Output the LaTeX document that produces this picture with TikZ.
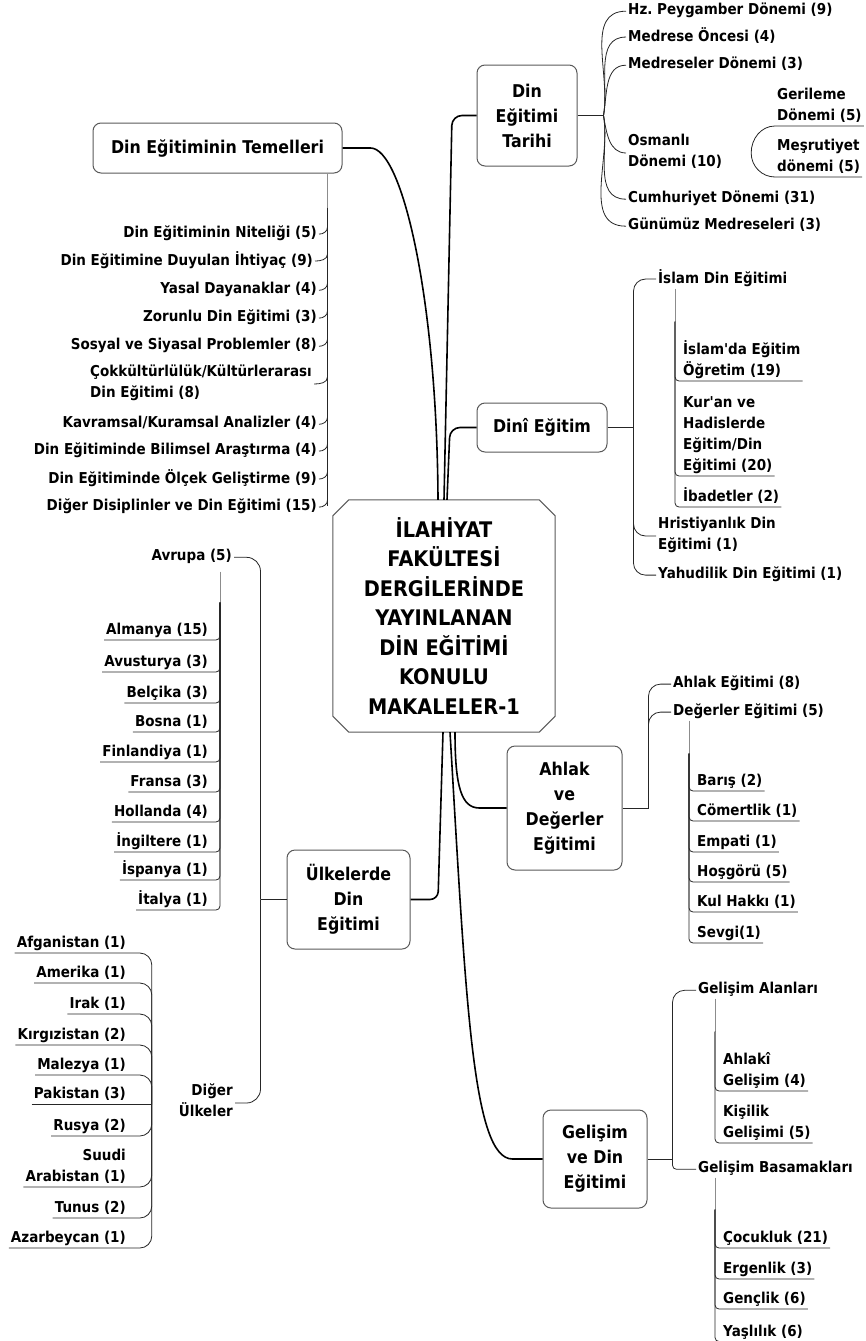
\documentclass[tikz,border=0pt]{standalone}
\usepackage{fontspec}
\setmainfont{DejaVu Sans}[FakeStretch=0.9, Ligatures=TeXOff]
\frenchspacing

\newcommand{\leaffont}{\fontsize{15}{21}\selectfont\bfseries}
\newcommand{\topicfont}{\fontsize{17.6}{25}\selectfont\bfseries}
\newcommand{\rootfont}{\fontsize{21.5}{29.5}\selectfont\bfseries}

\tikzset{
  root/.style={align=center, font=\rootfont, inner sep=0pt},
  frame/.style={draw=black!65, line width=1pt},
  topic/.style={draw=black!65, line width=1pt, rounded corners=8pt,
    align=center, font=\topicfont, inner sep=0pt},
  leaf/.style={font=\leaffont, inner xsep=2pt, inner ysep=0pt, text depth=5pt},
  multi/.style={leaf, align=left},
  trunk/.style={line width=1.6pt, black},
  twig/.style={line width=0.8pt, black!85},
  stem/.style={line width=0.5pt, black!45},
}

\begin{document}
\begin{tikzpicture}[x=1pt, y=-1pt]
  \useasboundingbox (0,0) rectangle (866,1341);

  % centre and main topics
  \node[root, minimum width=222pt, minimum height=232pt] (c) at (444,616)
    {İLAHİYAT\\FAKÜLTESİ\\DERGİLERİNDE\\YAYINLANAN\\DİN EĞİTİMİ\\KONULU\\MAKALELER-1};
  \draw[frame] ([xshift=16pt]c.north west) -- ([xshift=-16pt]c.north east)
    -- ([yshift=-16pt]c.north east) -- ([yshift=16pt]c.south east)
    -- ([xshift=-16pt]c.south east) -- ([xshift=16pt]c.south west)
    -- ([yshift=16pt]c.south west) -- ([yshift=-16pt]c.north west) -- cycle;
  \node[topic, minimum width=249pt, minimum height=50pt] (temel) at (217.5,148) {Din Eğitiminin Temelleri};
  \node[topic, minimum width=100pt, minimum height=101pt] (tarih) at (527,115.5) {Din\\Eğitimi\\Tarihi};
  \node[topic, minimum width=130pt, minimum height=49pt] (dini) at (542,427.5) {Dinî Eğitim};
  \node[topic, minimum width=115pt, minimum height=124pt] (ahlak) at (564.5,808) {Ahlak\\ve\\Değerler\\Eğitimi};
  \node[topic, minimum width=104pt, minimum height=98pt] (gelisim) at (595,1159) {Gelişim\\ve Din\\Eğitimi};
  \node[topic, minimum width=123pt, minimum height=99pt] (ulke) at (348.5,899.5) {Ülkelerde\\Din\\Eğitimi};

  \draw[trunk] (temel.east) -- ++(28,0) .. controls +(32,0) and +(-1,-200) .. ([xshift=-6pt]c.north);
  \draw[trunk, rounded corners=10pt] ([xshift=0pt]c.north) -- ([xshift=8pt]c.north |- tarih.west) -- (tarih.west);
  \draw[trunk, rounded corners=10pt] ([xshift=3pt]c.north) -- ([xshift=6pt]c.north |- dini.west) -- (dini.west);
  \draw[trunk, rounded corners=8pt] ([xshift=-1pt]c.south) -- ([xshift=-6pt]c.south |- ulke.east) -- (ulke.east);
  \draw[trunk] ([xshift=6pt]c.south) .. controls +(16,270) and +(-40,0) .. ([xshift=-30pt]gelisim.west) -- (gelisim.west);
  \draw[trunk] ([xshift=11pt]c.south) .. controls +(0,55) and +(-18,0) .. ([xshift=-27pt]ahlak.west) -- (ahlak.west);

  % Din Egitiminin Temelleri
  \coordinate (tbar) at ([xshift=-15pt]temel.south east);
  \draw[stem] (tbar) -- ++(0,34) coordinate (tbarb);
  \draw[twig] (tbarb) -- ++(0,298);
  \node[leaf, anchor=base east] (t1) at (319,237.5) {Din Eğitiminin Niteliği (5)};
  \node[leaf, anchor=base east] (t2) at (315,265.5) {Din Eğitimine Duyulan İhtiyaç (9)};
  \node[leaf, anchor=base east] (t3) at (319,293.5) {Yasal Dayanaklar (4)};
  \node[leaf, anchor=base east] (t4) at (319,321.5) {Zorunlu Din Eğitimi (3)};
  \node[leaf, anchor=base east] (t5) at (319,349.5) {Sosyal ve Siyasal Problemler (8)};
  \node[multi, anchor=west] (t6) at (88,384) {Çokkültürlülük/Kültürlerarası\\Din Eğitimi (8)};
  \node[leaf, anchor=base east] (t7) at (319,427.5) {Kavramsal/Kuramsal Analizler (4)};
  \node[leaf, anchor=base east] (t8) at (319,454.5) {Din Eğitiminde Bilimsel Araştırma (4)};
  \node[leaf, anchor=base east] (t9) at (319,483.5) {Din Eğitiminde Ölçek Geliştirme (9)};
  \node[leaf, anchor=base east] (t10) at (319,510.5) {Diğer Disiplinler ve Din Eğitimi (15)};
  \foreach \i in {1,...,10}
    \draw[twig] (t\i.east) to[out=0,in=-90] ([yshift=7pt]t\i.east -| tbar);

  % Din Egitimi Tarihi
  \coordinate (tfan) at ([xshift=26pt]tarih.east);
  \draw[twig] (tarih.east) -- (tfan);
  \node[leaf, anchor=base west] (h1) at (626,14.5) {Hz. Peygamber Dönemi (9)};
  \node[leaf, anchor=base west] (h2) at (626,41.5) {Medrese Öncesi (4)};
  \node[leaf, anchor=base west] (h3) at (626,68.5) {Medreseler Dönemi (3)};
  \node[multi, anchor=west] (h4) at (626,153) {Osmanlı\\Dönemi (10)};
  \node[leaf, anchor=base west] (h5) at (626,202.5) {Cumhuriyet Dönemi (31)};
  \node[leaf, anchor=base west] (h6) at (626,229.5) {Günümüz Medreseleri (3)};
  \foreach \i in {1,2,3}
    \draw[twig] (tfan) to[out=80,in=180] (h\i.west);
  \foreach \i in {4,5,6}
    \draw[twig] (tfan) to[out=-80,in=180] (h\i.west);
  \node[multi, anchor=south west] (h41) at (775,126) {Gerileme\\Dönemi (5)};
  \node[multi, anchor=south west] (h42) at (775,177) {Meşrutiyet\\dönemi (5)};
  \coordinate (ofan) at ([xshift=27pt]h4.east);
  \draw[twig] (ofan) to[out=90,in=180] (h41.south west) -- (h41.south east);
  \draw[twig] (ofan) to[out=-90,in=180] (h42.south west) -- (h42.south east);

  % Dini Egitim
  \coordinate (dfan) at ([xshift=26pt]dini.east);
  \draw[twig] (dini.east) -- (dfan);
  \node[leaf, anchor=base west] (d1) at (656,283.5) {İslam Din Eğitimi};
  \node[multi, anchor=west] (d2) at (656,536) {Hristiyanlık Din\\Eğitimi (1)};
  \node[leaf, anchor=base west] (d3) at (656,578.5) {Yahudilik Din Eğitimi (1)};
  \foreach \i in {1,2,3}
    \draw[twig, rounded corners=12pt] (dfan) |- (d\i.west);
  \coordinate (ibar) at ([xshift=19pt]d1.south west);
  \draw[stem] (ibar) -- ++(0,33) coordinate (ibarb);
  \node[multi, anchor=south west] (d11) at (681,381) {İslam'da Eğitim\\Öğretim (19)};
  \node[multi, anchor=south west] (d12) at (681,476) {Kur'an ve\\Hadislerde\\Eğitim/Din\\Eğitimi (20)};
  \node[leaf, anchor=south west] (d13) at (681,507) {İbadetler (2)};
  \foreach \i in {11,12,13}
    \draw[twig, rounded corners=4pt] (ibarb) |- (d\i.south east);

  % Ahlak ve Degerler Egitimi
  \coordinate (afan) at ([xshift=26pt]ahlak.east);
  \draw[twig] (ahlak.east) -- (afan);
  \node[leaf, anchor=base west] (a1) at (671,687.5) {Ahlak Eğitimi (8)};
  \node[leaf, anchor=base west] (a2) at (671,715.5) {Değerler Eğitimi (5)};
  \foreach \i in {1,2}
    \draw[twig, rounded corners=12pt] (afan) |- (a\i.west);
  \coordinate (vbar) at ([xshift=18pt]a2.south west);
  \draw[stem] (vbar) -- ++(0,33) coordinate (vbarb);
  \node[leaf, anchor=south west] (v1) at (695,791) {Barış (2)};
  \node[leaf, anchor=south west] (v2) at (695,821) {Cömertlik (1)};
  \node[leaf, anchor=south west] (v3) at (695,852) {Empati (1)};
  \node[leaf, anchor=south west] (v4) at (695,882) {Hoşgörü (5)};
  \node[leaf, anchor=south west] (v5) at (695,912) {Kul Hakkı (1)};
  \node[leaf, anchor=south west] (v6) at (695,943) {Sevgi(1)};
  \foreach \i in {1,...,6}
    \draw[twig, rounded corners=4pt] (vbarb) |- (v\i.south east);

  % Gelisim ve Din Egitimi
  \coordinate (gfan) at ([xshift=25pt]gelisim.east);
  \draw[twig] (gelisim.east) -- (gfan);
  \node[leaf, anchor=base west] (g1) at (696,993.5) {Gelişim Alanları};
  \node[leaf, anchor=base west] (g2) at (696,1172.5) {Gelişim Basamakları};
  \draw[twig, rounded corners=12pt] (gfan) |- (g1.west);
  \draw[twig, rounded corners=4pt] (gfan) |- (g2.west);
  \coordinate (gabar) at ([xshift=19pt]g1.south west);
  \draw[stem] (gabar) -- ++(0,33) coordinate (gabarb);
  \node[multi, anchor=south west] (g11) at (721,1091) {Ahlakî\\Gelişim (4)};
  \node[multi, anchor=south west] (g12) at (721,1143) {Kişilik\\Gelişimi (5)};
  \foreach \i in {11,12}
    \draw[twig, rounded corners=4pt] (gabarb) |- (g\i.south east);
  \coordinate (gbbar) at ([xshift=19pt]g2.south west);
  \draw[stem] (gbbar) -- ++(0,32) coordinate (gbbarb);
  \node[leaf, anchor=south west] (g21) at (721,1248) {Çocukluk (21)};
  \node[leaf, anchor=south west] (g22) at (721,1279) {Ergenlik (3)};
  \node[leaf, anchor=south west] (g23) at (721,1309) {Gençlik (6)};
  \node[leaf, anchor=south west] (g24) at (721,1341.5) {Yaşlılık (6)};
  \foreach \i in {21,...,24}
    \draw[twig, rounded corners=4pt] (gbbarb) |- (g\i.south east);

  % Ulkelerde Din Egitimi
  \coordinate (ufan) at ([xshift=-26pt]ulke.west);
  \draw[twig] (ulke.west) -- (ufan);
  \node[leaf, anchor=base east] (u1) at (234,560.5) {Avrupa (5)};
  \node[multi, anchor=east, align=right] (u2) at (235,1103) {Diğer\\Ülkeler};
  \draw[twig, rounded corners=14pt] (ufan) |- (u1.east);
  \draw[twig, rounded corners=14pt] (ufan) |- (u2.east);

  \coordinate (eubar) at ([xshift=-14pt,yshift=-6pt]u1.south east);
  \draw[stem] (eubar) -- ++(0,31) coordinate (eubarb);
  \node[leaf, anchor=south east] (e1) at (210,640) {Almanya (15)};
  \node[leaf, anchor=south east] (e2) at (210,672) {Avusturya (3)};
  \node[leaf, anchor=south east] (e3) at (210,703) {Belçika (3)};
  \node[leaf, anchor=south east] (e4) at (210,732) {Bosna (1)};
  \node[leaf, anchor=south east] (e5) at (210,762) {Finlandiya (1)};
  \node[leaf, anchor=south east] (e6) at (210,792) {Fransa (3)};
  \node[leaf, anchor=south east] (e7) at (210,822) {Hollanda (4)};
  \node[leaf, anchor=south east] (e8) at (210,852) {İngiltere (1)};
  \node[leaf, anchor=south east] (e9) at (210,880) {İspanya (1)};
  \node[leaf, anchor=south east] (e10) at (210,910) {İtalya (1)};
  \foreach \i in {1,...,10}
    \draw[twig, rounded corners=4pt] (e\i.south west) -| (eubarb);

  \coordinate (dgfan) at ([xshift=-25pt,yshift=-1pt]u2.west);
  \node[leaf, anchor=south east] (k1) at (128,953) {Afganistan (1)};
  \node[leaf, anchor=south east] (k2) at (128,983) {Amerika (1)};
  \node[leaf, anchor=south east] (k3) at (128,1014) {Irak (1)};
  \node[leaf, anchor=south east] (k4) at (128,1045) {Kırgızistan (2)};
  \node[leaf, anchor=south east] (k5) at (128,1075) {Malezya (1)};
  \node[leaf, anchor=south east] (k6) at (128,1104) {Pakistan (3)};
  \node[leaf, anchor=south east] (k7) at (128,1136) {Rusya (2)};
  \node[multi, anchor=south east, align=right] (k8) at (128,1187) {Suudi\\Arabistan (1)};
  \node[leaf, anchor=south east] (k9) at (128,1218) {Tunus (2)};
  \node[leaf, anchor=south east] (k10) at (128,1248) {Azarbeycan (1)};
  \foreach \i in {1,2,3,4,5,7,8,9,10}
    \draw[twig, rounded corners=12pt] (k\i.south west) -| (dgfan);
  \draw[twig] (k6.south west) -- (dgfan);
\end{tikzpicture}
\end{document}
